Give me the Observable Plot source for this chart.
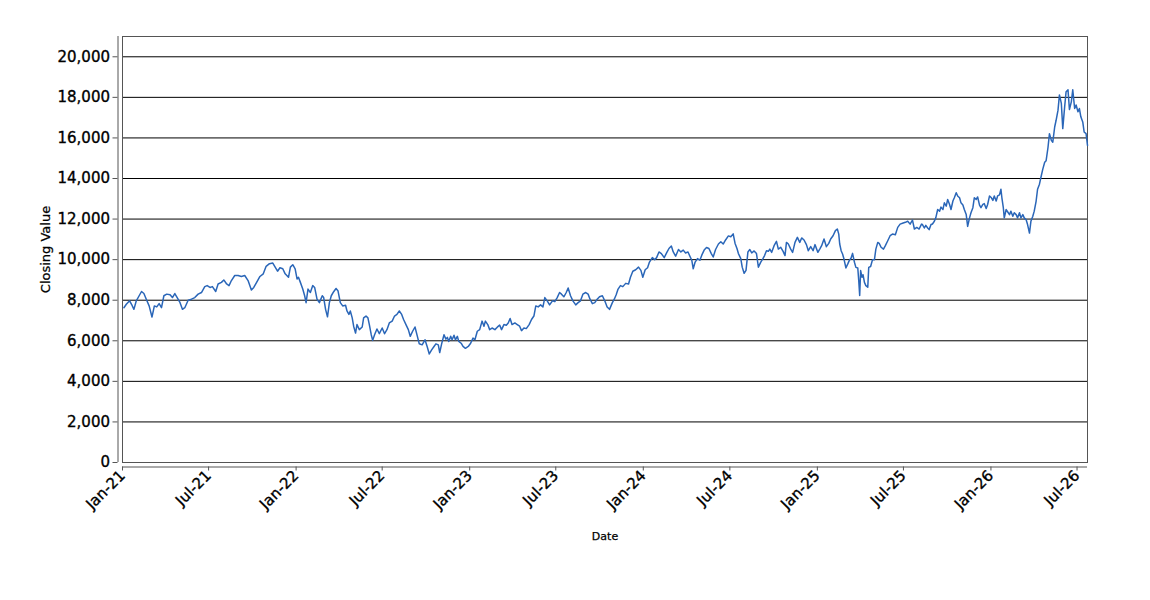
<!DOCTYPE html>
<html>
<head>
<meta charset="utf-8">
<script src="https://cdn.jsdelivr.net/npm/d3@7"></script>
<script src="https://cdn.jsdelivr.net/npm/@observablehq/plot@0.6"></script>
<style>
  html, body { margin: 0; padding: 0; background: #fff; }
  #chart { width: 1150px; height: 600px; }
  #chart g[aria-label="y-axis tick label"] text,
  #chart g[aria-label="x-axis tick label"] text { stroke: #000; stroke-width: 0.35px; }
  #chart g[aria-label="text"] text { stroke: #000; stroke-width: 0.25px; }
</style>
</head>
<body>
<div id="chart"></div>
<script>
const dates = [
"2021-01-04","2021-01-09","2021-01-16","2021-01-20","2021-01-25","2021-01-30","2021-02-05","2021-02-10","2021-02-15","2021-02-20","2021-02-26",
"2021-03-04","2021-03-09","2021-03-14","2021-03-19","2021-03-24","2021-03-29","2021-04-04","2021-04-11","2021-04-16","2021-04-21","2021-04-26",
"2021-05-02","2021-05-07","2021-05-12","2021-05-19","2021-05-26","2021-06-02","2021-06-09","2021-06-16","2021-06-23","2021-06-28",
"2021-07-04","2021-07-09","2021-07-16","2021-07-21","2021-07-28","2021-08-02","2021-08-08","2021-08-13","2021-08-18","2021-08-25",
"2021-09-01","2021-09-08","2021-09-15","2021-09-22","2021-09-29","2021-10-04","2021-10-10","2021-10-17","2021-10-24","2021-10-30",
"2021-11-06","2021-11-13","2021-11-18","2021-11-23","2021-11-28","2021-12-04","2021-12-09","2021-12-16","2021-12-20","2021-12-25","2021-12-30",
"2022-01-03","2022-01-06","2022-01-10","2022-01-15","2022-01-19","2022-01-22","2022-01-26","2022-01-31","2022-02-05","2022-02-09","2022-02-14",
"2022-02-19","2022-02-25","2022-02-28","2022-03-04","2022-03-08","2022-03-12","2022-03-16","2022-03-21","2022-03-26","2022-03-30",
"2022-04-04","2022-04-09","2022-04-15","2022-04-18","2022-04-22","2022-04-25","2022-04-29","2022-05-02","2022-05-06","2022-05-09","2022-05-14",
"2022-05-20","2022-05-23","2022-05-28","2022-06-01","2022-06-04","2022-06-08","2022-06-11","2022-06-15","2022-06-20","2022-06-25",
"2022-07-01","2022-07-06","2022-07-11","2022-07-16","2022-07-22","2022-07-27","2022-08-01","2022-08-06","2022-08-11","2022-08-15","2022-08-20",
"2022-08-25","2022-08-29","2022-09-03","2022-09-08","2022-09-13","2022-09-17","2022-09-23","2022-09-29","2022-10-04","2022-10-08","2022-10-13",
"2022-10-18","2022-10-22","2022-10-27","2022-10-30","2022-11-03","2022-11-08","2022-11-12","2022-11-15","2022-11-18","2022-11-22","2022-11-25",
"2022-11-29","2022-12-02","2022-12-06","2022-12-09","2022-12-14","2022-12-18","2022-12-23","2022-12-29",
"2023-01-03","2023-01-08","2023-01-12","2023-01-17","2023-01-22","2023-01-27","2023-01-31","2023-02-03","2023-02-08","2023-02-12","2023-02-17",
"2023-02-23","2023-02-28","2023-03-05","2023-03-09","2023-03-14","2023-03-19","2023-03-23","2023-03-27","2023-03-31","2023-04-06","2023-04-11",
"2023-04-16","2023-04-20","2023-04-25","2023-04-30","2023-05-06","2023-05-11","2023-05-16","2023-05-20","2023-05-25","2023-05-30",
"2023-06-04","2023-06-08","2023-06-13","2023-06-18","2023-06-24","2023-06-29","2023-07-04","2023-07-09","2023-07-13","2023-07-18","2023-07-23",
"2023-07-27","2023-08-01","2023-08-06","2023-08-12","2023-08-17","2023-08-22","2023-08-27","2023-09-02","2023-09-07","2023-09-11","2023-09-16",
"2023-09-21","2023-09-26","2023-10-01","2023-10-07","2023-10-12","2023-10-17","2023-10-22","2023-10-28","2023-11-01","2023-11-05","2023-11-09",
"2023-11-14","2023-11-19","2023-11-25","2023-12-01","2023-12-05","2023-12-10","2023-12-16","2023-12-22","2023-12-27","2023-12-31",
"2024-01-05","2024-01-10","2024-01-14","2024-01-20","2024-01-25","2024-01-29","2024-02-03","2024-02-08","2024-02-14","2024-02-19","2024-02-24",
"2024-02-29","2024-03-04","2024-03-09","2024-03-15","2024-03-20","2024-03-25","2024-03-30","2024-04-04","2024-04-08","2024-04-12","2024-04-15",
"2024-04-19","2024-04-24","2024-04-29","2024-05-03","2024-05-08","2024-05-13","2024-05-18","2024-05-23","2024-05-27","2024-06-01","2024-06-07",
"2024-06-12","2024-06-17","2024-06-22","2024-06-28","2024-07-03","2024-07-08","2024-07-12","2024-07-16","2024-07-19","2024-07-24","2024-07-27",
"2024-07-31","2024-08-04","2024-08-08","2024-08-12","2024-08-16","2024-08-21","2024-08-26","2024-08-30","2024-09-04","2024-09-08","2024-09-12",
"2024-09-16","2024-09-20","2024-09-23","2024-09-27","2024-10-02","2024-10-07","2024-10-11","2024-10-16","2024-10-21","2024-10-25","2024-10-28",
"2024-11-01","2024-11-06","2024-11-10","2024-11-15","2024-11-20","2024-11-25","2024-11-29","2024-12-04","2024-12-09","2024-12-13","2024-12-18",
"2024-12-23","2024-12-27",
"2025-01-02","2025-01-06","2025-01-10","2025-01-15","2025-01-20","2025-01-25","2025-01-29","2025-02-03","2025-02-08","2025-02-12","2025-02-15",
"2025-02-17","2025-02-20","2025-02-23","2025-02-26","2025-03-02","2025-03-06","2025-03-09","2025-03-13","2025-03-16","2025-03-20","2025-03-23",
"2025-03-27","2025-03-29","2025-03-31","2025-04-02","2025-04-05","2025-04-07","2025-04-10","2025-04-13","2025-04-17","2025-04-19","2025-04-23",
"2025-04-27","2025-05-01","2025-05-04","2025-05-08","2025-05-11","2025-05-15","2025-05-20","2025-05-24","2025-05-29","2025-06-03","2025-06-08",
"2025-06-14","2025-06-19","2025-06-24","2025-06-29","2025-07-05","2025-07-10","2025-07-15","2025-07-20","2025-07-24","2025-07-29","2025-08-03",
"2025-08-08","2025-08-10","2025-08-14","2025-08-17","2025-08-21","2025-08-24","2025-08-28","2025-08-31","2025-09-04","2025-09-07","2025-09-11",
"2025-09-15","2025-09-18","2025-09-22","2025-09-25","2025-09-29","2025-10-02","2025-10-06","2025-10-09","2025-10-13","2025-10-16","2025-10-20",
"2025-10-23","2025-10-27","2025-10-30","2025-11-03","2025-11-06","2025-11-10","2025-11-13","2025-11-17","2025-11-20","2025-11-24","2025-11-27",
"2025-12-01","2025-12-04","2025-12-08","2025-12-11","2025-12-15","2025-12-18","2025-12-22","2025-12-25","2025-12-29",
"2026-01-02","2026-01-05","2026-01-08","2026-01-12","2026-01-15","2026-01-19","2026-01-22","2026-01-24","2026-01-27","2026-01-29","2026-02-02",
"2026-02-05","2026-02-09","2026-02-12","2026-02-16","2026-02-19","2026-02-23","2026-02-26","2026-03-02","2026-03-05","2026-03-09","2026-03-12",
"2026-03-16","2026-03-19","2026-03-23","2026-03-26","2026-03-30","2026-04-02","2026-04-06","2026-04-09","2026-04-13","2026-04-16","2026-04-20",
"2026-04-24","2026-04-27","2026-05-01","2026-05-04","2026-05-08","2026-05-11","2026-05-15","2026-05-18","2026-05-22","2026-05-25","2026-05-29",
"2026-06-01","2026-06-05","2026-06-08","2026-06-12","2026-06-15","2026-06-19","2026-06-22","2026-06-26","2026-06-29","2026-07-03","2026-07-06",
"2026-07-09","2026-07-13","2026-07-16","2026-07-20","2026-07-23"
];

const closingValues = [
7630,7800,7970,7800,7550,7970,8220,8430,8330,8050,7720,
7170,7720,7670,7830,7630,8220,8300,8270,8130,8330,8130,
7880,7550,7630,8000,8050,8130,8300,8380,8670,8720,
8630,8670,8430,8800,8880,9000,8800,8720,8970,9220,
9220,9170,9220,8970,8500,8630,8880,9170,9300,9670,
9800,9830,9630,9430,9600,9550,9300,9130,9630,9750,9550,
9050,9130,8880,8550,8220,7880,8550,8380,8720,8630,8050,
7880,8220,8130,7550,7180,7880,8220,8420,8580,8470,
7880,7720,7750,7470,7300,7470,7130,6720,6380,6800,6550,
6680,7130,7220,7130,6800,6300,6020,6300,6580,6350,
6630,6350,6550,6880,6970,7220,7300,7470,7300,7050,6800,
6550,6220,6470,6680,6220,5850,5800,6050,5680,5350,5550,
5720,5850,5800,5420,5850,6300,6080,6170,5970,6220,6050,
6270,6050,6220,5970,5880,5720,5630,5720,
5880,6130,6050,6470,6550,6970,6720,6970,6800,6550,6630,
6550,6670,6770,6550,6800,6770,6880,7100,6800,6880,6800,
6720,6500,6630,6600,6800,7050,7220,7720,7670,7770,
7670,8130,7970,7770,7970,7930,8130,8380,8300,8170,8380,
8600,8220,7970,7770,7880,7970,8300,8380,8300,8050,7830,
7880,8050,8170,8220,7970,7670,7550,7880,8050,8270,8550,
8720,8670,8830,8800,9130,9430,9500,9630,9470,9130,
9500,9600,9880,10100,10000,10100,10380,10300,10100,10330,10550,
10670,10380,10170,10500,10380,10470,10330,10380,10170,9970,9550,
9880,10050,9970,10220,10470,10600,10550,10300,10130,10500,10770,
10880,10770,10970,11170,11130,11270,10800,10550,10300,10050,9630,
9330,9470,10380,10500,10330,10430,10300,9630,9880,10030,10200,
10440,10410,10520,10360,10690,10900,10520,10610,10410,10200,10850,
10770,10520,10360,10850,11100,10850,11070,10970,10740,10440,10640,
10440,10740,
10360,10520,10690,11020,10640,10800,11020,11180,11430,11510,11260,
10770,10440,10280,10030,9590,9790,9950,10080,10310,9870,9620,
9590,8970,8230,9460,9130,9260,8880,8720,8640,9620,9660,
10000,10000,10520,10850,10800,10610,10520,10690,10930,11180,11260,
11230,11590,11750,11790,11840,11890,11750,11950,11510,11590,11510,
11750,11730,11560,11690,11560,11480,11730,11760,11890,12060,12470,
12390,12590,12470,12800,12640,12970,12720,12470,12890,13050,13300,
13140,13050,12800,12690,12470,12220,11640,12060,12310,12560,13050,
12970,13090,12690,12560,12720,12760,12520,12720,13140,
13050,12920,13140,12890,13140,13190,13470,13050,12560,12060,12470,
12360,12220,12390,12140,12310,12220,12060,12310,12060,12220,12060,
11970,11730,11310,11890,12140,12390,12890,13470,13720,14050,14460,
14800,14880,15540,16210,15880,15790,16540,16870,17370,18120,17700,
16460,17540,18280,18370,17400,17780,18370,17450,17620,17290,17450,
17040,16790,16290,16210,15630
];

const xTicks = ["2021-01-01","2021-07-01","2022-01-01","2022-07-01","2023-01-01","2023-07-01",
                "2024-01-01","2024-07-01","2025-01-01","2025-07-01","2026-01-01","2026-07-01"];
const yTicks = [0,2000,4000,6000,8000,10000,12000,14000,16000,18000,20000];
const xDomain = ["2021-01-01","2026-07-23"];
const yDomain = [0, 21000];
const yLabel = "Closing Value";
const xLabel = "Date";

const parse = d3.utcParse("%Y-%m-%d");
const data = dates.map((d, i) => ({date: parse(d), value: closingValues[i]}));
const xTickDates = xTicks.map(parse);
const xDom = xDomain.map(parse);
const fmt = d3.utcFormat("%b-%y");

const chart = Plot.plot({
  width: 1150,
  height: 600,
  marginLeft: 122,
  marginRight: 63,
  marginTop: 36,
  marginBottom: 138,
  style: {fontFamily: "DejaVu Sans", fontSize: "15px", color: "#000", background: "#fff"},
  x: {type: "utc", domain: xDom},
  y: {domain: yDomain},
  marks: [
    Plot.gridY(yTicks, {stroke: "#000", strokeOpacity: 1, strokeWidth: 1}),
    Plot.frame({stroke: "#555", strokeWidth: 1}),
    Plot.ruleX([xDom[0]], {stroke: "#555", strokeWidth: 1, dx: -4.5}),
    Plot.ruleY([yDomain[0]], {stroke: "#555", strokeWidth: 1, dy: 4.5}),
    Plot.axisY(yTicks, {tickFormat: d3.format(","), tickSize: 5, tickPadding: 3, dx: -4.5, label: null, stroke: "#555", fontSize: 15}),
    Plot.axisX(xTickDates, {tickFormat: fmt, tickSize: 4, tickRotate: -45, dy: 4.5, label: null, stroke: "#555", fontSize: 15, tickPadding: 2}),
    Plot.line(data, {x: "date", y: "value", stroke: "#2a66b8", strokeWidth: 1.5}),
    Plot.text([yLabel], {frameAnchor: "left", textAnchor: "middle", dx: -77, rotate: -90, fontSize: 13}),
    Plot.text([xLabel], {frameAnchor: "bottom", dy: 77, fontSize: 11})
  ]
});
document.getElementById("chart").appendChild(chart);
</script>
</body>
</html>
